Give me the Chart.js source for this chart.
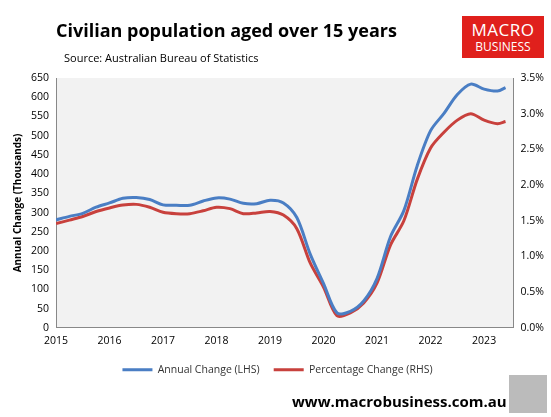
<!DOCTYPE html><html><head><script src="https://cdn.jsdelivr.net/npm/chart.js"></script>
<style>body{margin:0;background:#fff;font-family:"Open Sans",sans-serif}#w{position:relative;width:551px;height:417px}
#t{position:absolute;left:56px;top:18px;font-size:18px;font-weight:bold;color:#000}
#s{position:absolute;left:64px;top:50px;font-size:11px;color:#000}
#logo{position:absolute;left:462px;top:16px;width:82px;height:42px;background:#e0201c;color:#fff;text-align:center;line-height:1}
#u{position:absolute;left:292px;top:391px;font-size:15px;font-weight:bold}
#wolf{position:absolute;left:509px;top:375px;width:38px;height:38px;background:#bbb}
canvas{position:absolute;left:0;top:0}</style></head><body><div id="w">
<canvas id="c" width="551" height="417"></canvas>
<div id="t">Civilian population aged over 15 years</div>
<div id="s">Source: Australian Bureau of Statistics</div>
<div id="logo"><div style="font-size:17px;margin-top:5px;letter-spacing:0.5px">MACRO</div><div style="font-size:12px;margin-top:3px">BUSINESS</div></div>
<div id="u">www.macrobusiness.com.au</div><div id="wolf"></div>
</div>
<script>
const years=[2015,2016,2017,2018,2019,2020,2021,2022,2023];
const dates=[2015,2015.25,2015.5,2015.75,2016,2016.25,2016.5,2016.75,2017,2017.25,2017.5,2017.75,2018,2018.25,2018.5,2018.75,2019,2019.25,2019.5,2019.75,2020,2020.25,2020.5,2020.75,2021,2021.25,2021.5,2021.75,2022,2022.25,2022.5,2022.75,2023,2023.25,2023.4];
const annualChange=[281,290,298,314,325,337,339,334,320,319,319,330,338,335,324,323,332,325,287,192,115,39,43,70,129,237,305,422,513,558,607,634,621,616,625];
const pctChange=[1.46,1.51,1.56,1.63,1.68,1.72,1.73,1.69,1.62,1.60,1.60,1.64,1.69,1.67,1.60,1.61,1.63,1.58,1.39,0.91,0.57,0.17,0.21,0.35,0.63,1.16,1.50,2.08,2.52,2.74,2.91,3.00,2.91,2.86,2.89];
const bg={id:'bg',beforeDraw(c){const a=c.chartArea,x=c.ctx;x.save();x.fillStyle='#f2f2f2';x.fillRect(a.left,a.top,a.right-a.left,a.bottom-a.top);x.restore();}};
const f={family:'"Open Sans",sans-serif',size:10.5};
new Chart(document.getElementById('c'),{type:'line',plugins:[bg],data:{datasets:[
{label:'Annual Change (LHS)',data:dates.map((d,i)=>({x:d,y:annualChange[i]})),borderColor:'#4a7ec4',borderWidth:3,pointRadius:0,tension:0.3,yAxisID:'y'},
{label:'Percentage Change (RHS)',data:dates.map((d,i)=>({x:d,y:pctChange[i]})),borderColor:'#c8413d',borderWidth:3,pointRadius:0,tension:0.3,yAxisID:'y1'}]},
options:{responsive:false,animation:false,layout:{padding:{left:8,right:4,top:78,bottom:32}},
plugins:{legend:{position:'bottom',labels:{boxWidth:30,boxHeight:0,font:f,color:'#333',padding:14}},tooltip:{enabled:false}},
scales:{x:{type:'linear',min:2015,max:2023.55,afterBuildTicks:s=>{s.ticks=years.map(v=>({value:v}));},ticks:{font:f,color:'#000',callback:v=>String(v)},grid:{display:false,tickLength:4},border:{color:'#888'}},
y:{min:0,max:650,ticks:{stepSize:50,font:f,color:'#000'},grid:{display:false,tickLength:4},border:{color:'#888'},title:{display:true,text:'Annual Change (Thousands)',font:{family:'"Open Sans",sans-serif',size:10,weight:'bold'},color:'#000'}},
y1:{position:'right',min:0,max:3.5,ticks:{stepSize:0.5,font:f,color:'#000',callback:v=>v.toFixed(1)+'%'},grid:{display:false,tickLength:4},border:{color:'#888'}}}}});
</script></body></html>
